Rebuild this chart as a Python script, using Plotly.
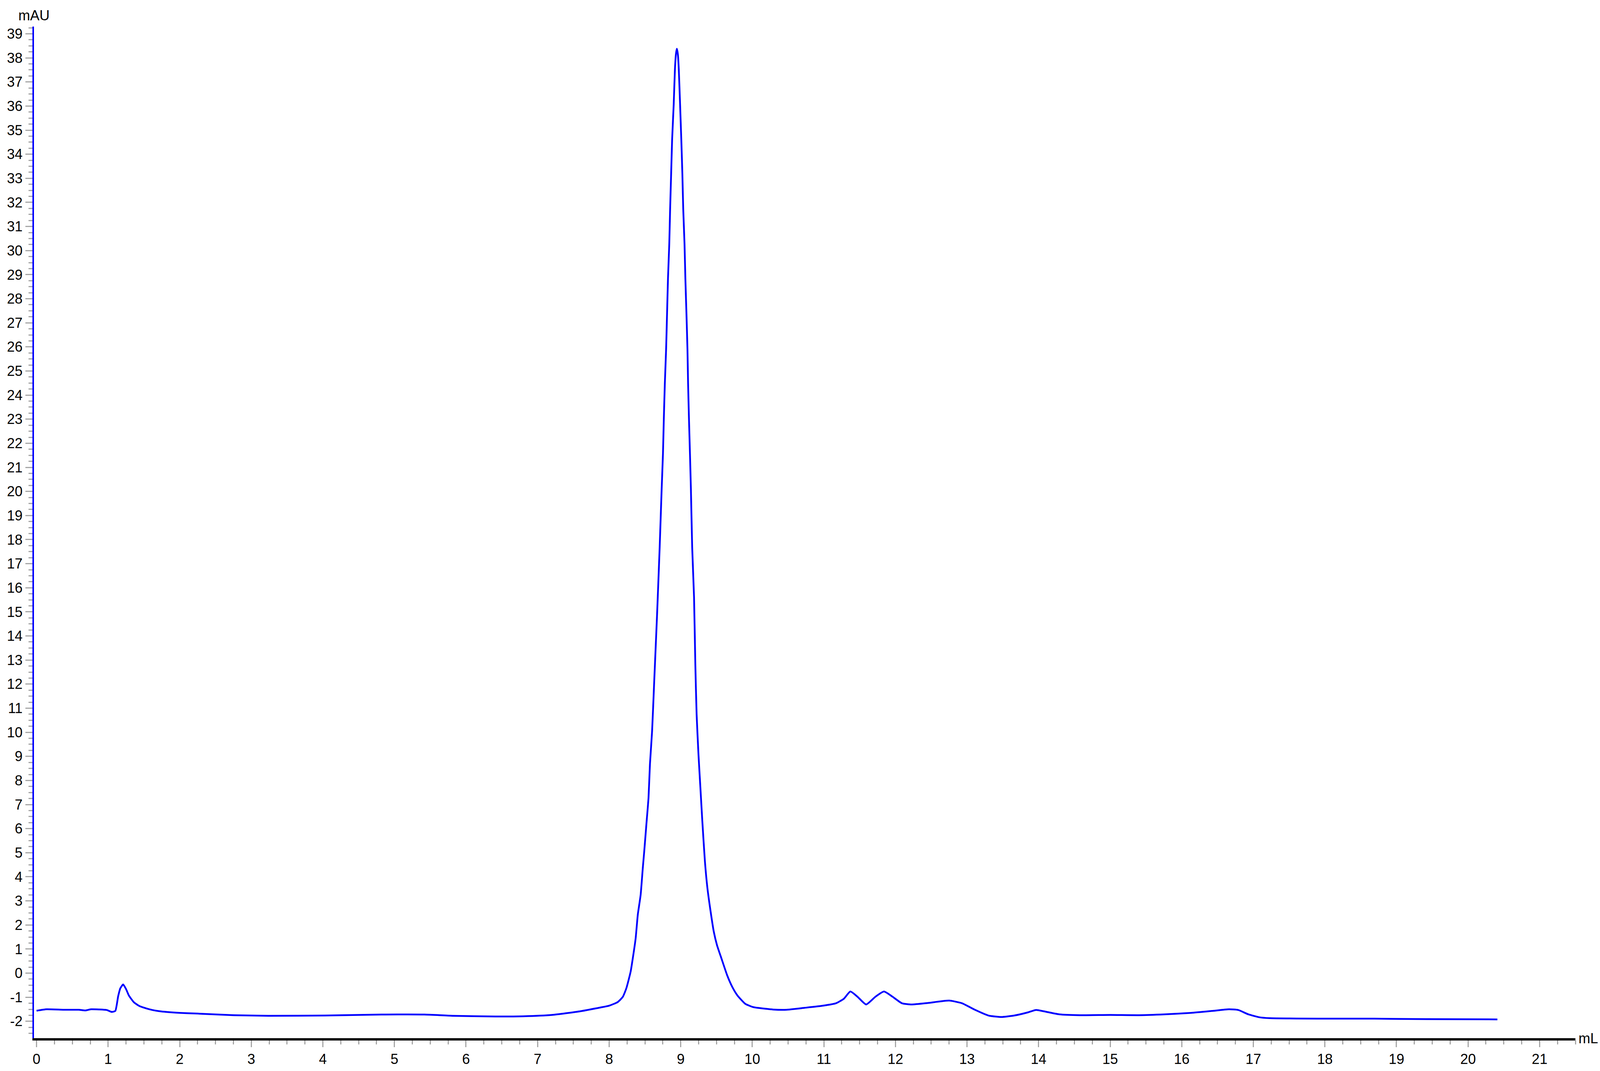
import plotly.graph_objects as go

# Elution volume (mL) and UV absorbance (mAU)
volume_ml = [
    0.00, 0.14, 0.38, 0.59, 0.68, 0.76, 0.98, 1.05, 1.10, 1.14, 1.17, 1.21, 1.25, 1.29,
    1.36, 1.44, 1.59, 1.74, 2.00, 2.25, 2.76, 3.24, 4.03, 4.82, 5.42, 5.81, 6.41, 6.80,
    7.20, 7.60, 7.87, 8.00, 8.12, 8.19, 8.24, 8.30, 8.33, 8.37, 8.40, 8.44, 8.47, 8.49,
    8.52, 8.55, 8.57, 8.60, 8.63, 8.65, 8.67, 8.706, 8.734, 8.752, 8.764, 8.778, 8.796,
    8.809, 8.822, 8.840, 8.852, 8.866, 8.880, 8.902, 8.919, 8.933, 8.946, 8.960, 8.973,
    8.991, 9.008, 9.023, 9.035, 9.053, 9.065, 9.080, 9.094, 9.103, 9.115, 9.129, 9.142,
    9.160, 9.186, 9.204, 9.222, 9.248, 9.275, 9.302, 9.338, 9.373, 9.418, 9.462, 9.507,
    9.569, 9.649, 9.720, 9.791, 9.90, 10.00, 10.07, 10.29, 10.48, 10.73, 10.99, 11.17,
    11.28, 11.37, 11.47, 11.59, 11.72, 11.84, 11.96, 12.09, 12.23, 12.45, 12.75, 12.93,
    13.11, 13.30, 13.48, 13.66, 13.85, 13.96, 14.10, 14.29, 14.58, 15.00, 15.40, 15.76,
    16.13, 16.42, 16.66, 16.79, 16.93, 17.08, 17.23, 17.96, 18.69, 19.42, 20.41,
]
absorbance_mau = [
    -1.56, -1.50, -1.52, -1.52, -1.55, -1.50, -1.53, -1.61, -1.57, -0.96, -0.63, -0.47, -0.66, -0.93,
    -1.21, -1.37, -1.51, -1.59, -1.65, -1.68, -1.745, -1.77, -1.76, -1.72, -1.72, -1.77, -1.80, -1.79,
    -1.735, -1.58, -1.43, -1.35, -1.20, -0.99, -0.63, 0.06, 0.61, 1.44, 2.42, 3.25, 4.36, 5.05,
    6.17, 7.28, 8.67, 10.05, 12.14, 13.53, 14.92, 17.69, 20.13, 21.57, 23.03, 24.47, 25.92,
    27.38, 28.83, 30.28, 31.73, 33.18, 34.62, 36.07, 37.52, 38.15, 38.38, 38.15, 37.52,
    36.07, 34.62, 33.18, 31.73, 30.28, 28.83, 27.38, 25.92, 24.47, 23.03, 21.57, 20.13,
    17.69, 15.61, 12.83, 10.75, 9.08, 7.69, 6.30, 4.64, 3.53, 2.55, 1.72, 1.16,
    0.61, -0.09, -0.57, -0.92, -1.27, -1.40, -1.44, -1.51, -1.52, -1.44, -1.35, -1.25,
    -1.06, -0.76, -0.98, -1.30, -0.98, -0.76, -0.98, -1.25, -1.30, -1.24, -1.14, -1.25,
    -1.52, -1.76, -1.82, -1.76, -1.63, -1.53, -1.60, -1.71, -1.745, -1.735, -1.745, -1.71,
    -1.65, -1.57, -1.50, -1.53, -1.71, -1.83, -1.87, -1.89, -1.89, -1.91, -1.92,
]

x_tick_values = [0, 1, 2, 3, 4, 5, 6, 7, 8, 9, 10, 11, 12, 13, 14, 15, 16, 17, 18, 19, 20, 21]
x_tick_labels = [str(v) for v in x_tick_values]
y_tick_values = [-2, -1, 0, 1, 2, 3, 4, 5, 6, 7, 8, 9, 10, 11, 12, 13, 14, 15, 16, 17, 18, 19,
                 20, 21, 22, 23, 24, 25, 26, 27, 28, 29, 30, 31, 32, 33, 34, 35, 36, 37, 38, 39]
y_tick_labels = [str(v) for v in y_tick_values]

x_unit = "mL"
y_unit = "mAU"

FONT = "Liberation Sans, Arial, sans-serif"
TICK_GRAY = "#a6a6a6"
M_L, M_R, M_T, M_B = 87, 63, 68, 84

fig = go.Figure()
fig.add_trace(go.Scatter(
    x=volume_ml, y=absorbance_mau, mode="lines",
    line=dict(color="#0000ff", width=4.5, shape="spline", smoothing=0.5),
    showlegend=False, hoverinfo="skip",
))

fig.update_layout(
    autosize=True,
    margin=dict(l=M_L, r=M_R, t=M_T, b=M_B, autoexpand=False),
    paper_bgcolor="white", plot_bgcolor="white",
    font=dict(family=FONT, size=36, color="black"),
    showlegend=False,
)

fig.update_xaxes(
    range=[-0.036, 21.5], showgrid=False, zeroline=False,
    showline=True, linecolor="black", linewidth=6,
    tickmode="array", tickvals=x_tick_values, ticktext=x_tick_labels,
    ticks="outside", ticklen=17, tickwidth=3, tickcolor=TICK_GRAY,
    tickfont=dict(family=FONT, size=36, color="black"),
    minor=dict(dtick=0.25, tick0=0, ticks="outside", ticklen=10, tickwidth=3,
               tickcolor=TICK_GRAY, showgrid=False),
    automargin=False,
)
fig.update_yaxes(
    range=[-2.7, 39.3], showgrid=False, zeroline=False,
    showline=True, linecolor="#0000ff", linewidth=4,
    tickmode="array", tickvals=y_tick_values, ticktext=y_tick_labels,
    ticks="outside", ticklen=18, tickwidth=3, tickcolor=TICK_GRAY,
    tickfont=dict(family=FONT, size=36, color="black"),
    minor=dict(dtick=0.25, tick0=0, ticks="outside", ticklen=10, tickwidth=3,
               tickcolor=TICK_GRAY, showgrid=False),
    automargin=False,
)

fig.add_annotation(
    text=y_unit, xref="paper", yref="paper", x=0, y=1, yshift=29,
    xanchor="center", yanchor="middle", showarrow=False,
    font=dict(family=FONT, size=36, color="black"),
)
fig.add_annotation(
    text=x_unit, xref="paper", yref="paper", x=1, y=0, xshift=6,
    xanchor="left", yanchor="middle", showarrow=False,
    font=dict(family=FONT, size=36, color="black"),
)

fit_to_window = (
    "document.documentElement.style.margin='0';"
    "document.body.style.margin='0';"
    "document.body.style.overflow='hidden';"
    "var gd=document.getElementById('{plot_id}');"
    "Plotly.relayout(gd,{width:window.innerWidth,height:window.innerHeight});"
)

fig.write_html(
    "out.html",
    default_width="100vw",
    default_height="100vh",
    config={"responsive": True, "displayModeBar": False},
    post_script=fit_to_window,
)
